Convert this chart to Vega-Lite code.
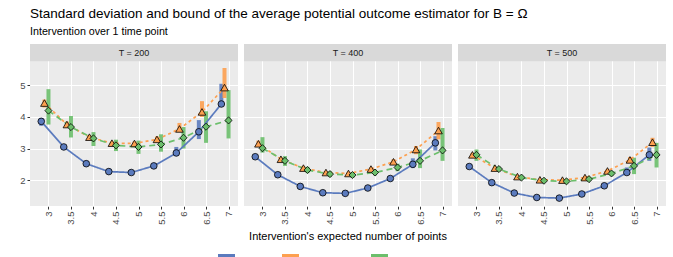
{
  "$schema": "https://vega.github.io/schema/vega-lite/v6.json",
  "padding": {"left": 19, "top": 6, "right": 6, "bottom": 0},
  "background": "white",
  "title": {
    "text": "Standard deviation and bound of the average potential outcome estimator for B = Ω",
    "subtitle": "Intervention over 1 time point",
    "anchor": "start",
    "frame": "group",
    "font": "Liberation Sans",
    "fontSize": 13.5,
    "fontWeight": "normal",
    "color": "black",
    "subtitleFont": "Liberation Sans",
    "subtitleFontSize": 10.7,
    "subtitleColor": "black",
    "subtitlePadding": 7,
    "offset": 7
  },
  "data": {"values": [
    {"T":"T =  200","s":"Actual","x":2.84,"y":3.86,"lo":3.72,"hi":3.97},
    {"T":"T =  200","s":"Actual","x":3.34,"y":3.05,"lo":3.0,"hi":3.1},
    {"T":"T =  200","s":"Actual","x":3.84,"y":2.52,"lo":2.48,"hi":2.56},
    {"T":"T =  200","s":"Actual","x":4.34,"y":2.27,"lo":2.24,"hi":2.3},
    {"T":"T =  200","s":"Actual","x":4.84,"y":2.24,"lo":2.21,"hi":2.27},
    {"T":"T =  200","s":"Actual","x":5.34,"y":2.45,"lo":2.4,"hi":2.5},
    {"T":"T =  200","s":"Actual","x":5.84,"y":2.86,"lo":2.76,"hi":3.05},
    {"T":"T =  200","s":"Actual","x":6.34,"y":3.53,"lo":3.3,"hi":3.9},
    {"T":"T =  200","s":"Actual","x":6.84,"y":4.41,"lo":4.35,"hi":5.05},
    {"T":"T =  200","s":"True bound","x":2.91,"y":4.44,"lo":4.3,"hi":4.55},
    {"T":"T =  200","s":"True bound","x":3.41,"y":3.76,"lo":3.65,"hi":3.85},
    {"T":"T =  200","s":"True bound","x":3.91,"y":3.36,"lo":3.28,"hi":3.42},
    {"T":"T =  200","s":"True bound","x":4.41,"y":3.17,"lo":3.1,"hi":3.22},
    {"T":"T =  200","s":"True bound","x":4.91,"y":3.16,"lo":3.08,"hi":3.22},
    {"T":"T =  200","s":"True bound","x":5.41,"y":3.29,"lo":3.2,"hi":3.38},
    {"T":"T =  200","s":"True bound","x":5.91,"y":3.62,"lo":3.55,"hi":3.81},
    {"T":"T =  200","s":"True bound","x":6.41,"y":4.16,"lo":4.0,"hi":4.5},
    {"T":"T =  200","s":"True bound","x":6.91,"y":4.93,"lo":4.6,"hi":5.55},
    {"T":"T =  200","s":"Estimated bound","x":3.0,"y":4.2,"lo":3.76,"hi":4.88},
    {"T":"T =  200","s":"Estimated bound","x":3.5,"y":3.68,"lo":3.35,"hi":4.03},
    {"T":"T =  200","s":"Estimated bound","x":4.0,"y":3.32,"lo":3.08,"hi":3.52},
    {"T":"T =  200","s":"Estimated bound","x":4.5,"y":3.1,"lo":2.92,"hi":3.28},
    {"T":"T =  200","s":"Estimated bound","x":5.0,"y":3.05,"lo":2.83,"hi":3.25},
    {"T":"T =  200","s":"Estimated bound","x":5.5,"y":3.13,"lo":2.9,"hi":3.45},
    {"T":"T =  200","s":"Estimated bound","x":6.0,"y":3.34,"lo":3.0,"hi":3.68},
    {"T":"T =  200","s":"Estimated bound","x":6.5,"y":3.69,"lo":3.18,"hi":4.18},
    {"T":"T =  200","s":"Estimated bound","x":7.0,"y":3.89,"lo":3.32,"hi":4.85},
    {"T":"T =  400","s":"Actual","x":2.84,"y":2.74,"lo":2.7,"hi":2.78},
    {"T":"T =  400","s":"Actual","x":3.34,"y":2.17,"lo":2.14,"hi":2.2},
    {"T":"T =  400","s":"Actual","x":3.84,"y":1.8,"lo":1.78,"hi":1.82},
    {"T":"T =  400","s":"Actual","x":4.34,"y":1.6,"lo":1.58,"hi":1.62},
    {"T":"T =  400","s":"Actual","x":4.84,"y":1.58,"lo":1.56,"hi":1.6},
    {"T":"T =  400","s":"Actual","x":5.34,"y":1.75,"lo":1.72,"hi":1.78},
    {"T":"T =  400","s":"Actual","x":5.84,"y":2.05,"lo":2.0,"hi":2.1},
    {"T":"T =  400","s":"Actual","x":6.34,"y":2.5,"lo":2.38,"hi":2.69},
    {"T":"T =  400","s":"Actual","x":6.84,"y":3.18,"lo":2.94,"hi":3.39},
    {"T":"T =  400","s":"True bound","x":2.91,"y":3.15,"lo":3.05,"hi":3.25},
    {"T":"T =  400","s":"True bound","x":3.41,"y":2.66,"lo":2.6,"hi":2.72},
    {"T":"T =  400","s":"True bound","x":3.91,"y":2.38,"lo":2.33,"hi":2.43},
    {"T":"T =  400","s":"True bound","x":4.41,"y":2.24,"lo":2.2,"hi":2.28},
    {"T":"T =  400","s":"True bound","x":4.91,"y":2.21,"lo":2.17,"hi":2.25},
    {"T":"T =  400","s":"True bound","x":5.41,"y":2.35,"lo":2.3,"hi":2.4},
    {"T":"T =  400","s":"True bound","x":5.91,"y":2.58,"lo":2.5,"hi":2.66},
    {"T":"T =  400","s":"True bound","x":6.41,"y":2.97,"lo":2.82,"hi":3.08},
    {"T":"T =  400","s":"True bound","x":6.91,"y":3.57,"lo":3.29,"hi":3.84},
    {"T":"T =  400","s":"Estimated bound","x":3.0,"y":3.01,"lo":2.87,"hi":3.36},
    {"T":"T =  400","s":"Estimated bound","x":3.5,"y":2.61,"lo":2.45,"hi":2.76},
    {"T":"T =  400","s":"Estimated bound","x":4.0,"y":2.32,"lo":2.22,"hi":2.42},
    {"T":"T =  400","s":"Estimated bound","x":4.5,"y":2.19,"lo":2.1,"hi":2.28},
    {"T":"T =  400","s":"Estimated bound","x":5.0,"y":2.16,"lo":2.08,"hi":2.25},
    {"T":"T =  400","s":"Estimated bound","x":5.5,"y":2.24,"lo":2.15,"hi":2.33},
    {"T":"T =  400","s":"Estimated bound","x":6.0,"y":2.4,"lo":2.28,"hi":2.52},
    {"T":"T =  400","s":"Estimated bound","x":6.5,"y":2.61,"lo":2.38,"hi":2.97},
    {"T":"T =  400","s":"Estimated bound","x":7.0,"y":2.94,"lo":2.61,"hi":3.65},
    {"T":"T =  500","s":"Actual","x":2.84,"y":2.43,"lo":2.4,"hi":2.46},
    {"T":"T =  500","s":"Actual","x":3.34,"y":1.92,"lo":1.9,"hi":1.94},
    {"T":"T =  500","s":"Actual","x":3.84,"y":1.59,"lo":1.57,"hi":1.61},
    {"T":"T =  500","s":"Actual","x":4.34,"y":1.45,"lo":1.43,"hi":1.47},
    {"T":"T =  500","s":"Actual","x":4.84,"y":1.43,"lo":1.41,"hi":1.45},
    {"T":"T =  500","s":"Actual","x":5.34,"y":1.56,"lo":1.54,"hi":1.58},
    {"T":"T =  500","s":"Actual","x":5.84,"y":1.82,"lo":1.79,"hi":1.85},
    {"T":"T =  500","s":"Actual","x":6.34,"y":2.24,"lo":2.17,"hi":2.4},
    {"T":"T =  500","s":"Actual","x":6.84,"y":2.8,"lo":2.61,"hi":3.03},
    {"T":"T =  500","s":"True bound","x":2.91,"y":2.8,"lo":2.74,"hi":2.86},
    {"T":"T =  500","s":"True bound","x":3.41,"y":2.38,"lo":2.34,"hi":2.42},
    {"T":"T =  500","s":"True bound","x":3.91,"y":2.11,"lo":2.08,"hi":2.14},
    {"T":"T =  500","s":"True bound","x":4.41,"y":2.01,"lo":1.98,"hi":2.04},
    {"T":"T =  500","s":"True bound","x":4.91,"y":2.0,"lo":1.97,"hi":2.03},
    {"T":"T =  500","s":"True bound","x":5.41,"y":2.08,"lo":2.04,"hi":2.12},
    {"T":"T =  500","s":"True bound","x":5.91,"y":2.29,"lo":2.24,"hi":2.34},
    {"T":"T =  500","s":"True bound","x":6.41,"y":2.64,"lo":2.55,"hi":2.73},
    {"T":"T =  500","s":"True bound","x":6.91,"y":3.2,"lo":3.05,"hi":3.34},
    {"T":"T =  500","s":"Estimated bound","x":3.0,"y":2.8,"lo":2.61,"hi":2.97},
    {"T":"T =  500","s":"Estimated bound","x":3.5,"y":2.35,"lo":2.28,"hi":2.42},
    {"T":"T =  500","s":"Estimated bound","x":4.0,"y":2.08,"lo":2.03,"hi":2.13},
    {"T":"T =  500","s":"Estimated bound","x":4.5,"y":1.98,"lo":1.93,"hi":2.03},
    {"T":"T =  500","s":"Estimated bound","x":5.0,"y":1.96,"lo":1.91,"hi":2.01},
    {"T":"T =  500","s":"Estimated bound","x":5.5,"y":2.03,"lo":1.97,"hi":2.09},
    {"T":"T =  500","s":"Estimated bound","x":6.0,"y":2.21,"lo":2.13,"hi":2.29},
    {"T":"T =  500","s":"Estimated bound","x":6.5,"y":2.45,"lo":2.19,"hi":2.71},
    {"T":"T =  500","s":"Estimated bound","x":7.0,"y":2.8,"lo":2.4,"hi":3.18}
  ]},
  "facet": {
    "column": {
      "field": "T",
      "type": "nominal",
      "title": "Intervention's expected number of points",
      "header": {
        "labels": false,
        "titleOrient": "bottom",
        "titleFont": "Liberation Sans",
        "titleFontSize": 11,
        "titleFontWeight": "normal",
        "titleColor": "black",
        "titlePadding": -4
      }
    }
  },
  "spacing": 6,
  "spec": {
    "width": 208,
    "height": 162,
    "view": {"fill": "#EBEBEB", "stroke": null},
    "layer": [
      {
        "transform": [{"aggregate": [{"op": "count", "as": "n"}], "groupby": ["T"]}],
        "mark": {"type": "rect", "color": "#D9D9D9"},
        "encoding": {
          "y": {"datum": 5.76, "type": "quantitative",
            "scale": {"domain": [1.18, 6.31], "nice": false, "zero": false},
            "axis": {"values": [2, 3, 4, 5], "title": null}},
          "y2": {"datum": 6.31}
        }
      },
      {
        "transform": [{"aggregate": [{"op": "count", "as": "n"}], "groupby": ["T"]}],
        "mark": {"type": "text", "font": "Liberation Sans", "fontSize": 9, "color": "#1A1A1A", "baseline": "middle", "align": "center"},
        "encoding": {
          "x": {"datum": 4.9, "type": "quantitative",
            "scale": {"domain": [2.59, 7.21], "nice": false, "zero": false},
            "axis": {"values": [3, 3.5, 4, 4.5, 5, 5.5, 6, 6.5, 7], "labelExpr": "'' + datum.value", "labelOverlap": false, "labelBound": false, "title": null}},
          "y": {"datum": 6.035, "type": "quantitative"},
          "text": {"field": "T"}
        }
      },
      {
        "mark": {"type": "rule", "strokeWidth": 4, "opacity": 0.9},
        "encoding": {
          "x": {"field": "x", "type": "quantitative",
            "axis": {"values": [3, 3.5, 4, 4.5, 5, 5.5, 6, 6.5, 7], "labelExpr": "'' + datum.value", "labelOverlap": false, "labelBound": false, "title": null}},
          "y": {"field": "lo", "type": "quantitative"},
          "y2": {"field": "hi"},
          "color": {"field": "s", "type": "nominal",
            "scale": {"domain": ["Actual", "True bound", "Estimated bound"], "range": ["#5B7BBE", "#FDA050", "#6CBF6C"]},
            "legend": {"orient": "none", "legendX": 188, "legendY": 210, "direction": "horizontal", "title": null,
              "symbolType": "square", "symbolSize": 289, "symbolStrokeWidth": 0, "symbolOpacity": 1,
              "symbolFillColor": null,
              "labelFontSize": 11, "labelColor": "black", "columnPadding": 12, "padding": 0,
              "encode": {"symbols": {"update": {"shape": {"value": "square"}, "strokeWidth": {"value": 0}, "opacity": {"value": 1}, "fill": {"scale": "color", "field": "value"}}}}}}
        }
      },
      {
        "mark": {"type": "line", "strokeWidth": 1.7},
        "encoding": {
          "x": {"field": "x", "type": "quantitative",
            "axis": {"values": [3, 3.5, 4, 4.5, 5, 5.5, 6, 6.5, 7], "labelExpr": "'' + datum.value", "labelOverlap": false, "labelBound": false, "title": null}},
          "y": {"field": "y", "type": "quantitative"},
          "color": {"field": "s", "type": "nominal"},
          "strokeDash": {"field": "s", "type": "nominal", "legend": null,
            "scale": {"domain": ["Actual", "True bound", "Estimated bound"], "range": [[1, 0], [3, 3], [6, 4]]}}
        }
      },
      {
        "transform": [{"filter": "datum.s === 'Actual'"}],
        "mark": {"type": "point", "shape": "circle", "filled": true, "stroke": "black", "strokeWidth": 0.8, "opacity": 1, "size": 44},
        "encoding": {
          "x": {"field": "x", "type": "quantitative",
            "axis": {"values": [3, 3.5, 4, 4.5, 5, 5.5, 6, 6.5, 7], "labelExpr": "'' + datum.value", "labelOverlap": false, "labelBound": false, "title": null}},
          "y": {"field": "y", "type": "quantitative"},
          "color": {"field": "s", "type": "nominal"}
        }
      },
      {
        "transform": [{"filter": "datum.s === 'True bound'"}],
        "mark": {"type": "point", "shape": "triangle-up", "filled": true, "stroke": "black", "strokeWidth": 0.8, "opacity": 1, "size": 58},
        "encoding": {
          "x": {"field": "x", "type": "quantitative",
            "axis": {"values": [3, 3.5, 4, 4.5, 5, 5.5, 6, 6.5, 7], "labelExpr": "'' + datum.value", "labelOverlap": false, "labelBound": false, "title": null}},
          "y": {"field": "y", "type": "quantitative"},
          "color": {"field": "s", "type": "nominal"}
        }
      },
      {
        "transform": [{"filter": "datum.s === 'Estimated bound'"}],
        "mark": {"type": "point", "shape": "diamond", "filled": true, "stroke": "black", "strokeWidth": 0.8, "opacity": 1, "size": 50},
        "encoding": {
          "x": {"field": "x", "type": "quantitative",
            "axis": {"values": [3, 3.5, 4, 4.5, 5, 5.5, 6, 6.5, 7], "labelExpr": "'' + datum.value", "labelOverlap": false, "labelBound": false, "title": null}},
          "y": {"field": "y", "type": "quantitative"},
          "color": {"field": "s", "type": "nominal"}
        }
      }
    ]
  },
  "resolve": {"scale": {"x": "shared", "y": "shared"}},
  "config": {
    "font": "Liberation Sans",
    "axisX": {
      "labelAngle": -90,
      "labelFontSize": 9.5,
      "labelColor": "#4D4D4D",
      "tickColor": "#333333",
      "tickSize": 3,
      "labelPadding": 2,
      "domain": false,
      "grid": true,
      "gridColor": "white",
      "gridWidth": 1.1
    },
    "axisY": {
      "labelFontSize": 9.5,
      "labelColor": "#4D4D4D",
      "tickColor": "#333333",
      "tickSize": 3,
      "labelPadding": 2,
      "domain": false,
      "grid": true,
      "gridColor": "white",
      "gridWidth": 1.1
    }
  }
}
